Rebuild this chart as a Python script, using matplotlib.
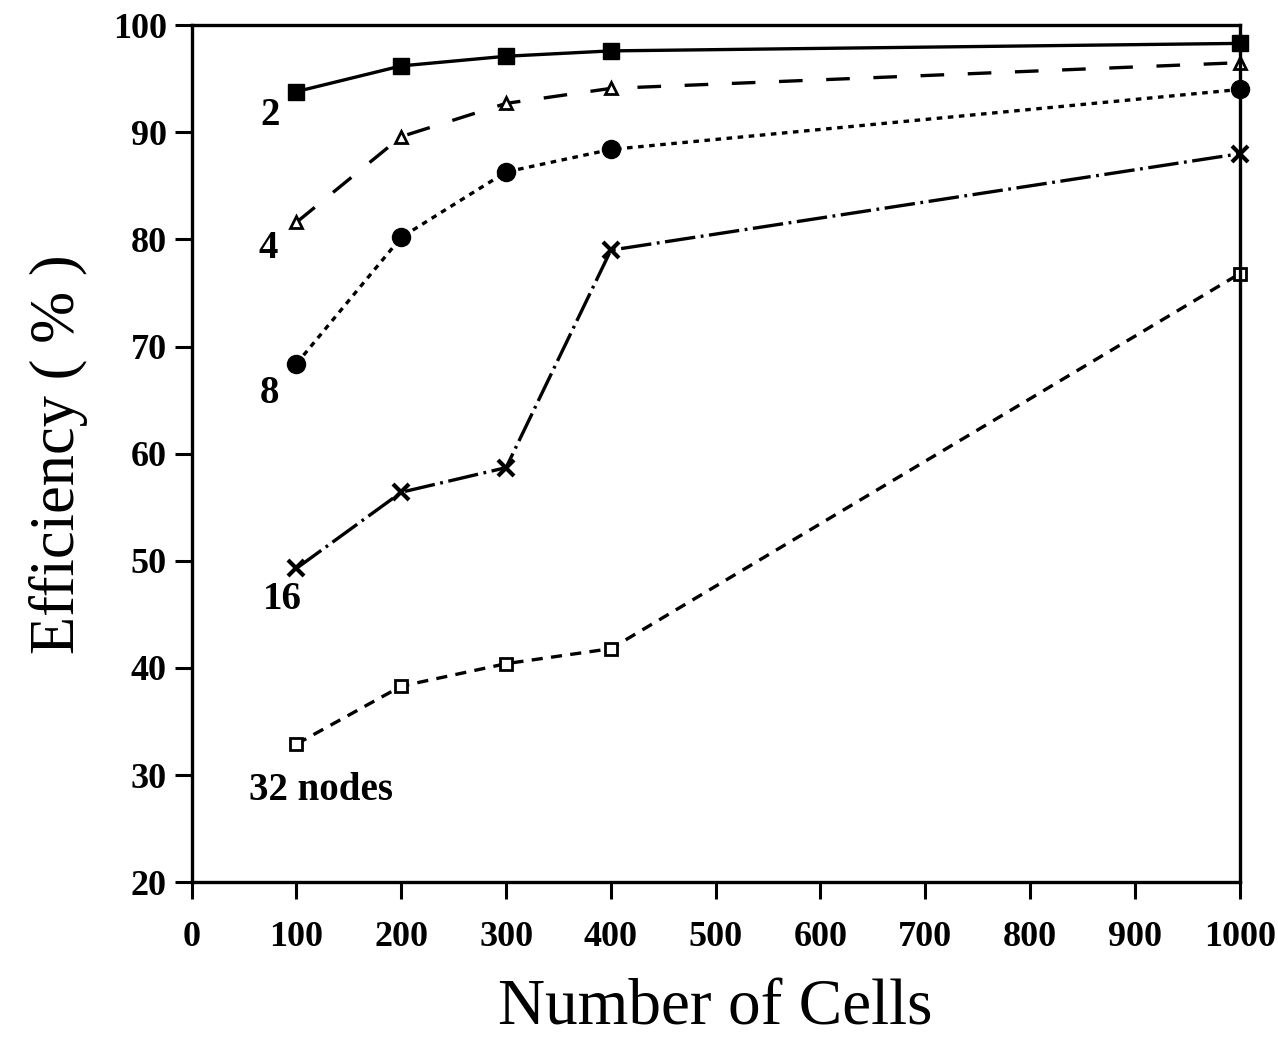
import matplotlib.pyplot as plt

plt.rcParams['lines.scale_dashes'] = False

cells = [100, 200, 300, 400, 1000]
eff_2 = [93.8, 96.2, 97.1, 97.6, 98.3]
eff_4 = [81.6, 89.6, 92.7, 94.1, 96.5]
eff_8 = [68.4, 80.2, 86.3, 88.4, 94.0]
eff_16 = [49.3, 56.4, 58.7, 79.0, 88.0]
eff_32 = [32.9, 38.3, 40.4, 41.8, 76.8]

labels = ["2", "4", "8", "16", "32 nodes"]
label_pos = [(66, 91.6), (64, 79.2), (65, 65.6), (68, 46.4), (55, 28.6)]

fig = plt.figure(figsize=(12.78, 10.49), dpi=100)
ax = fig.add_axes([0.150, 0.159, 0.820, 0.817])

lw = 2.4
ax.plot(cells, eff_2, "-", c="k", lw=lw, marker="s", ms=12, mfc="k", clip_on=False)
ax.plot(cells, eff_4, c="k", lw=lw, dashes=(17, 17), marker="^", ms=9, mfc="w", mew=2, clip_on=False)
ax.plot(cells, eff_8, c="k", lw=lw, dashes=(4, 4), marker="o", ms=13, mfc="k", clip_on=False)
ax.plot(cells, eff_16, c="k", lw=lw, dashes=(22, 4, 2, 4), marker="x", ms=11, mew=3, clip_on=False)
ax.plot(cells, eff_32, c="k", lw=lw, dashes=(8, 6), marker="s", ms=8, mfc="w", mew=2, clip_on=False)

for txt, (x, y) in zip(labels, label_pos):
    ax.text(x, y, txt, fontsize=28, fontweight="bold", family="Liberation Serif",
            ha="left", va="center")

ax.set_xlim(0, 1000)
ax.set_ylim(20, 100)
ax.set_xticks(range(0, 1001, 100))
ax.set_yticks(range(20, 101, 10))
for s in ax.spines.values():
    s.set_linewidth(2.4)
ax.tick_params(direction="out", length=12, width=2.2)
ax.tick_params(axis="x", pad=16)
ax.tick_params(axis="y", pad=6)
for t in ax.get_xticklabels() + ax.get_yticklabels():
    t.set_family("Liberation Serif")
    t.set_fontweight("bold")
    t.set_fontsize(26)

ax.set_xlabel("Number of Cells", fontsize=47, family="Liberation Serif", labelpad=18)
ax.set_ylabel("Efficiency ( % )", fontsize=45, family="Liberation Serif", labelpad=18)

fig.savefig("out.png", dpi=100)
